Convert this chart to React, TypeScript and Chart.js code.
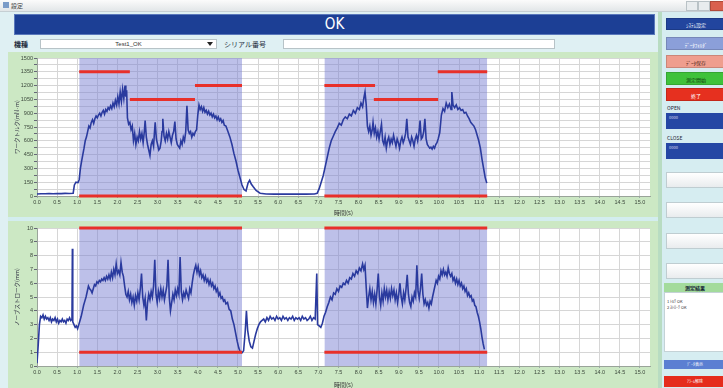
import React, { useEffect, useRef } from "react";
import { Chart, registerables } from "chart.js";
Chart.register(...registerables);

// ---------- data ----------
const TOP_TIME = [0.00,0.10,0.20,0.30,0.40,0.50,0.60,0.70,0.80,0.90,0.93,0.97,1.02,1.05,1.08,1.11,1.14,1.17,1.20,1.23,1.26,1.29,1.32,1.35,1.38,1.41,1.44,1.47,1.50,1.53,1.56,1.59,1.62,1.65,1.68,1.71,1.74,1.77,1.80,1.83,1.86,1.89,1.92,1.95,1.98,2.01,2.04,2.07,2.10,2.13,2.16,2.19,2.21,2.23,2.25,2.28,2.31,2.34,2.37,2.40,2.43,2.46,2.49,2.52,2.55,2.58,2.61,2.64,2.67,2.69,2.72,2.75,2.78,2.81,2.84,2.87,2.90,2.92,2.94,2.97,3.00,3.03,3.06,3.09,3.11,3.13,3.16,3.19,3.22,3.25,3.28,3.31,3.34,3.37,3.40,3.43,3.46,3.49,3.52,3.55,3.58,3.61,3.64,3.67,3.70,3.73,3.76,3.79,3.82,3.85,3.88,3.91,3.94,3.97,4.00,4.03,4.06,4.09,4.12,4.15,4.18,4.21,4.24,4.27,4.30,4.33,4.36,4.39,4.42,4.45,4.48,4.51,4.54,4.57,4.60,4.63,4.66,4.70,4.75,4.80,4.85,4.90,4.95,5.00,5.05,5.10,5.15,5.20,5.25,5.29,5.33,5.38,5.45,5.55,5.70,5.90,6.10,6.30,6.50,6.70,6.90,6.97,7.02,7.07,7.12,7.17,7.22,7.27,7.32,7.37,7.42,7.47,7.52,7.57,7.62,7.67,7.72,7.77,7.82,7.87,7.92,7.97,8.02,8.06,8.10,8.13,8.16,8.19,8.22,8.25,8.28,8.31,8.34,8.36,8.39,8.42,8.45,8.48,8.51,8.54,8.57,8.60,8.63,8.66,8.69,8.72,8.75,8.78,8.81,8.84,8.87,8.90,8.93,8.96,8.99,9.02,9.05,9.08,9.11,9.14,9.17,9.20,9.23,9.26,9.29,9.32,9.35,9.38,9.41,9.44,9.47,9.50,9.53,9.56,9.59,9.62,9.65,9.68,9.71,9.74,9.77,9.80,9.83,9.86,9.89,9.92,9.95,9.98,10.02,10.06,10.10,10.14,10.18,10.22,10.26,10.30,10.32,10.35,10.39,10.43,10.47,10.51,10.55,10.59,10.63,10.67,10.71,10.75,10.79,10.83,10.87,10.91,10.95,10.99,11.03,11.07,11.11,11.15,11.19];
const TOP_TORQUE = [22,25,24,26,25,27,26,28,27,30,120,150,145,180,300,380,450,520,600,640,700,760,740,800,830,790,840,870,850,880,900,870,910,930,890,940,920,960,940,980,950,1010,970,1040,990,1080,1000,1130,1030,1160,1060,1200,1080,1150,850,780,800,720,760,600,680,560,640,600,700,620,680,580,700,820,640,560,500,440,560,600,540,680,800,620,560,500,520,600,700,840,650,600,680,620,700,640,580,660,700,810,620,560,540,520,600,560,640,600,700,980,720,680,700,640,680,660,700,720,880,990,940,970,920,960,910,930,890,920,880,900,860,890,850,870,830,860,820,840,800,820,770,760,700,640,560,460,380,280,200,120,70,55,140,170,130,100,60,30,22,20,22,20,21,20,22,30,80,150,220,320,420,520,600,650,700,740,790,770,830,860,840,890,870,930,900,960,940,1010,970,1060,1130,990,760,700,760,660,720,800,680,740,640,700,620,700,780,600,560,640,520,600,640,560,620,580,660,600,540,620,580,520,600,640,580,620,680,840,640,600,560,640,600,540,620,660,600,680,820,620,640,700,840,620,560,540,520,530,510,540,520,560,580,620,690,880,950,920,1010,960,1000,940,1130,990,960,990,940,960,930,940,900,910,870,840,800,780,760,720,660,600,520,400,300,200,140];

const BOT_TIME = [0.00,0.03,0.06,0.09,0.12,0.15,0.18,0.21,0.24,0.27,0.30,0.33,0.36,0.39,0.42,0.45,0.48,0.51,0.54,0.57,0.60,0.63,0.66,0.69,0.72,0.75,0.78,0.81,0.84,0.87,0.88,0.89,0.92,0.95,0.98,1.01,1.04,1.07,1.10,1.13,1.16,1.19,1.22,1.25,1.28,1.31,1.34,1.37,1.40,1.43,1.46,1.49,1.52,1.55,1.58,1.61,1.64,1.67,1.70,1.73,1.76,1.79,1.82,1.85,1.88,1.91,1.94,1.97,2.00,2.03,2.06,2.09,2.12,2.15,2.18,2.21,2.24,2.27,2.30,2.33,2.36,2.39,2.42,2.45,2.48,2.51,2.54,2.57,2.60,2.63,2.66,2.69,2.72,2.75,2.78,2.81,2.84,2.87,2.90,2.93,2.96,2.99,3.02,3.05,3.08,3.11,3.14,3.17,3.20,3.23,3.26,3.29,3.32,3.35,3.38,3.41,3.44,3.47,3.50,3.53,3.56,3.59,3.62,3.65,3.68,3.71,3.74,3.77,3.80,3.83,3.86,3.89,3.92,3.95,3.98,4.01,4.04,4.07,4.10,4.13,4.16,4.19,4.22,4.25,4.28,4.31,4.34,4.37,4.40,4.43,4.46,4.49,4.52,4.55,4.58,4.61,4.64,4.67,4.70,4.74,4.78,4.82,4.86,4.90,4.94,4.98,5.02,5.06,5.10,5.14,5.18,5.21,5.24,5.28,5.32,5.36,5.40,5.44,5.48,5.52,5.56,5.60,5.64,5.68,5.72,5.76,5.80,5.84,5.88,5.92,5.96,6.00,6.04,6.08,6.12,6.16,6.20,6.24,6.28,6.32,6.36,6.40,6.44,6.48,6.52,6.56,6.60,6.64,6.68,6.72,6.76,6.80,6.84,6.88,6.92,6.96,6.98,7.02,7.06,7.10,7.14,7.18,7.22,7.26,7.30,7.34,7.38,7.42,7.46,7.50,7.54,7.58,7.62,7.66,7.70,7.74,7.78,7.82,7.86,7.90,7.94,7.98,8.02,8.06,8.10,8.13,8.16,8.19,8.22,8.25,8.28,8.31,8.34,8.37,8.40,8.43,8.46,8.49,8.52,8.55,8.58,8.61,8.64,8.67,8.70,8.73,8.76,8.79,8.82,8.85,8.88,8.91,8.94,8.97,9.00,9.03,9.06,9.09,9.12,9.15,9.18,9.21,9.24,9.27,9.30,9.33,9.36,9.39,9.42,9.45,9.48,9.51,9.54,9.57,9.60,9.63,9.66,9.69,9.72,9.75,9.78,9.81,9.84,9.87,9.90,9.93,9.96,9.99,10.02,10.05,10.08,10.11,10.14,10.17,10.20,10.23,10.26,10.29,10.32,10.35,10.38,10.41,10.44,10.47,10.50,10.53,10.56,10.59,10.62,10.65,10.68,10.71,10.74,10.77,10.80,10.83,10.86,10.89,10.92,10.95,10.98,11.01,11.04,11.07,11.10,11.13];
const BOT_STROKE = [0.2,1.5,3.0,3.6,3.5,3.7,3.4,3.6,3.4,3.5,3.3,3.5,3.2,3.4,3.3,3.5,3.2,3.4,3.1,3.3,3.2,3.4,3.2,3.3,3.1,3.4,3.3,3.5,3.3,3.4,8.5,3.2,3.0,2.8,2.9,2.7,3.0,3.3,3.6,4.0,4.4,4.7,5.0,5.4,5.8,5.6,5.5,5.3,5.6,5.9,5.8,6.1,6.0,6.2,6.1,6.3,6.2,6.4,6.2,6.5,6.3,6.6,6.3,6.8,6.4,7.0,6.6,7.4,6.7,6.9,6.6,7.5,6.8,6.5,5.8,5.2,5.0,5.4,4.8,5.2,4.6,5.0,4.4,5.1,4.7,5.3,4.8,5.6,6.7,5.0,4.4,4.9,3.3,4.6,5.2,4.8,5.4,5.0,5.8,7.7,5.2,4.6,5.4,4.9,5.6,5.0,5.5,4.8,5.3,5.8,7.7,5.0,4.0,4.6,5.2,4.8,5.5,5.1,5.6,5.2,7.9,5.4,4.8,5.3,5.0,5.5,5.2,4.9,5.6,5.3,6.0,6.6,7.0,7.3,6.8,7.2,6.6,6.9,6.4,6.6,6.2,6.5,6.1,6.3,5.9,6.2,5.8,6.0,5.6,5.8,5.4,5.6,5.1,5.3,4.9,5.0,4.7,4.8,4.5,4.6,4.1,4.0,3.4,3.0,2.4,1.8,1.3,1.0,0.95,1.1,2.5,4.0,2.6,1.8,1.4,1.3,1.8,2.3,2.7,3.0,3.2,3.3,3.4,3.2,3.5,3.3,3.6,3.4,3.5,3.3,3.6,3.4,3.5,3.3,3.6,3.4,3.5,3.3,3.5,3.4,3.6,3.3,3.5,3.4,3.5,3.3,3.6,3.4,3.5,3.3,3.4,3.6,3.3,3.5,3.4,6.7,3.0,2.9,2.8,3.1,3.6,3.9,4.3,4.6,5.0,4.8,5.3,5.2,5.6,5.4,5.8,5.7,6.0,5.9,6.2,6.0,6.4,6.3,6.7,6.5,6.9,6.7,7.1,6.9,7.4,7.0,7.3,5.7,4.2,5.0,5.6,4.8,5.4,4.6,5.2,4.5,5.5,6.7,5.0,4.4,5.3,4.7,5.6,5.0,5.5,4.8,5.4,4.9,5.6,5.1,5.5,4.8,5.3,4.6,5.2,6.0,5.0,4.5,5.3,4.8,5.6,6.6,5.2,4.6,4.3,5.0,4.7,5.3,5.0,7.3,5.4,4.9,5.6,6.7,5.2,4.5,4.8,4.4,4.6,4.2,4.7,4.5,5.0,5.4,5.8,6.2,6.0,6.5,6.3,6.9,6.6,7.0,6.6,6.8,6.5,7.1,6.7,6.5,6.7,6.2,6.4,6.0,6.3,5.9,6.2,5.8,6.0,5.6,5.8,5.4,5.6,5.1,5.3,5.0,5.1,4.7,4.8,4.4,4.3,3.9,3.6,3.2,2.7,2.1,1.6,1.2];

// measurement windows (s)
const WINDOW_START = [1.05, 7.15];
const WINDOW_END = [5.1, 11.2];

// torque upper-limit segments
const TOP_LIMIT_FROM = [1.05, 2.31, 3.93, 7.15, 8.38, 9.97];
const TOP_LIMIT_TO = [2.31, 3.93, 5.1, 8.41, 9.98, 11.2];
const TOP_LIMIT_VALUE = [1350, 1050, 1200, 1200, 1050, 1350];
const TOP_LOWER_LIMIT = 0;

// stroke limits
const BOT_UPPER_LIMIT = 10;
const BOT_LOWER_LIMIT = 1;

const TOP_Y_MAX = 1500;
const TOP_Y_STEP = 75;
const TOP_Y_LABEL_STEP = 150;
const BOT_Y_MAX = 10;
const X_MAX = 15.25;
const X_STEP = 0.5;

// ---------- helpers ----------
const BLUE = "#2a3a9e";
const RED = "#e8302a";
const SHADE = "rgba(118,124,210,0.48)";
const TICK_FONT = { family: "'Liberation Sans', 'DejaVu Sans', sans-serif", size: 5.5 };
const CJK = "'Noto Sans CJK JP', 'Noto Sans', sans-serif";

const pairs = (xs: number[], ys: number[]) => xs.map((x, i) => ({ x, y: ys[i] }));
const segs = (from: number[], to: number[], vals: number[]) => {
  const out: any[] = [];
  from.forEach((f, i) => {
    out.push({ x: f, y: vals[i] }, { x: to[i], y: vals[i] }, { x: to[i], y: null });
  });
  return out;
};

const plotBg = {
  id: "plotBg",
  beforeDraw(chart: any) {
    const { ctx, chartArea: a } = chart;
    ctx.save();
    ctx.fillStyle = "#ffffff";
    ctx.fillRect(a.left, a.top, a.right - a.left, a.bottom - a.top);
    ctx.restore();
  },
};

function buildConfig(opts: {
  time: number[];
  values: number[];
  yMax: number;
  yStep: number;
  yLabel: (v: number) => string;
  yTitle: string;
  upper: any[];
  lower: any[];
  padTop: number;
  xTitlePad: number;
}) {
  const shadeSets = WINDOW_START.map((s, i) => ({
    type: "line",
    data: [{ x: s, y: opts.yMax }, { x: WINDOW_END[i], y: opts.yMax }],
    fill: "start",
    backgroundColor: SHADE,
    borderWidth: 0,
    pointRadius: 0,
    order: 3,
  }));
  return {
    type: "line",
    data: {
      datasets: [
        ...shadeSets,
        {
          data: pairs(opts.time, opts.values),
          borderColor: BLUE,
          borderWidth: 1.6,
          pointRadius: 0,
          tension: 0,
          fill: false,
          order: 1,
        },
        {
          data: opts.upper,
          borderColor: RED,
          borderWidth: 3,
          pointRadius: 0,
          spanGaps: false,
          fill: false,
          clip: false,
          order: 0,
        },
        {
          data: opts.lower,
          borderColor: RED,
          borderWidth: 3,
          pointRadius: 0,
          spanGaps: false,
          fill: false,
          clip: false,
          order: 0,
        },
      ],
    },
    options: {
      animation: false,
      responsive: false,
      devicePixelRatio: 1,
      events: [],
      layout: { padding: { top: opts.padTop, right: 6, left: 0, bottom: 0 } },
      plugins: { legend: { display: false }, tooltip: { enabled: false } },
      scales: {
        x: {
          type: "linear",
          min: 0,
          max: X_MAX,
          afterFit: (s: any) => { s.height = 22; },
          border: { color: "#9aa49a" },
          grid: { color: "#d6d6d6", lineWidth: 1, tickLength: 2, tickColor: "#9aa" },
          ticks: {
            stepSize: X_STEP,
            includeBounds: false,
            autoSkip: false,
            maxRotation: 0,
            padding: 1,
            color: "#3a463a",
            font: TICK_FONT,
            callback: (v: number) => v.toFixed(1),
          },
          title: { display: true, text: "時間(s)", color: "#333", font: { family: CJK, size: 6 }, padding: { top: 0, bottom: opts.xTitlePad } },
        },
        y: {
          min: 0,
          max: opts.yMax,
          afterFit: (s: any) => { s.width = 29; },
          border: { color: "#9aa49a" },
          grid: { color: "#d6d6d6", lineWidth: 1, tickLength: 3, tickColor: "#667" },
          ticks: {
            stepSize: opts.yStep,
            includeBounds: false,
            autoSkip: false,
            padding: 1,
            color: "#3a463a",
            font: TICK_FONT,
            callback: opts.yLabel,
          },
          title: { display: true, text: opts.yTitle, color: "#334", font: { family: CJK, size: 5.5 }, padding: { top: 6, bottom: 0 } },
        },
      },
    },
    plugins: [plotBg],
  };
}

function ChartBox({ config, left, top, width, height }: any) {
  const ref = useRef<HTMLCanvasElement>(null);
  useEffect(() => {
    const chart = new Chart(ref.current as HTMLCanvasElement, config as any);
    return () => chart.destroy();
  }, []);
  return (
    <canvas
      ref={ref}
      width={width}
      height={height}
      style={{ position: "absolute", left, top, width, height, display: "block" }}
    />
  );
}

const topConfig = buildConfig({
  time: TOP_TIME,
  values: TOP_TORQUE,
  yMax: TOP_Y_MAX,
  yStep: TOP_Y_STEP,
  yLabel: (v: number) => (v % TOP_Y_LABEL_STEP === 0 ? String(v) : ""),
  yTitle: "ワークトルク(mN·m)",
  upper: segs(TOP_LIMIT_FROM, TOP_LIMIT_TO, TOP_LIMIT_VALUE),
  lower: segs(WINDOW_START, WINDOW_END, WINDOW_START.map(() => TOP_LOWER_LIMIT)),
  padTop: 6,
  xTitlePad: 2,
});

const botConfig = buildConfig({
  time: BOT_TIME,
  values: BOT_STROKE,
  yMax: BOT_Y_MAX,
  yStep: 1,
  yLabel: (v: number) => String(v),
  yTitle: "ノーブストローク(mm)",
  upper: segs(WINDOW_START, WINDOW_END, WINDOW_START.map(() => BOT_UPPER_LIMIT)),
  lower: segs(WINDOW_START, WINDOW_END, WINDOW_START.map(() => BOT_LOWER_LIMIT)),
  padTop: 8,
  xTitlePad: 0,
});

const SIDE_BUTTONS = [
  { top: 18, h: 12, bg: "#22459e", text: "ｼｽﾃﾑ設定", color: "#fff" },
  { top: 37, h: 13, bg: "#8b9fd9", text: "ﾃﾞｰﾀﾌｫﾙﾀﾞ", color: "#fff" },
  { top: 55, h: 13, bg: "#ef9e8e", text: "ﾃﾞｰﾀ保存", color: "#5a2a20" },
  { top: 72, h: 13, bg: "#3fc23b", text: "測定開始", color: "#0f3a10" },
  { top: 88, h: 13, bg: "#e6301f", text: "終了", color: "#fff" },
];
const WHITE_BOXES = [172, 202, 233, 263];

export default function App() {
  const abs = (s: any) => ({ position: "absolute" as const, ...s });
  return (
    <div style={abs({ left: 0, top: 0, width: 723, height: 388, overflow: "hidden", background: "#dff0f3", fontFamily: CJK })}>
      {/* title bar */}
      <div style={abs({ left: 0, top: 0, width: 723, height: 11, background: "linear-gradient(#fbfbfb,#e2e6e8)", borderBottom: "1px solid #c6cfd3" })} />
      <div style={abs({ left: 3, top: 2, width: 6, height: 6, background: "#7b9cc8" })} />
      <div style={abs({ left: 11, top: 0, fontSize: 6, lineHeight: "11px", color: "#444" })}>設定</div>
      <div style={abs({ left: 686, top: 1, width: 10, height: 8, background: "#e8ecee", border: "1px solid #b9c2c6" })} />
      <div style={abs({ left: 698, top: 1, width: 10, height: 8, background: "#e8ecee", border: "1px solid #b9c2c6" })} />
      <div style={abs({ left: 710, top: 1, width: 14, height: 8, background: "#d9604e", border: "1px solid #b04a3a" })} />

      {/* OK banner */}
      <div style={abs({ left: 14, top: 14, width: 641, height: 21, background: "#1c3f95", border: "1px solid #5a78bb", boxSizing: "border-box", color: "#fff", fontSize: 15, lineHeight: "19px", textAlign: "center", fontFamily: "'DejaVu Sans Condensed','Liberation Sans Narrow','DejaVu Sans',sans-serif" })}>OK</div>

      {/* model / serial row */}
      <div style={abs({ left: 14, top: 39, fontSize: 7, lineHeight: "10px", color: "#1e2e40", fontWeight: 700 })}>機種</div>
      <div style={abs({ left: 40, top: 39, width: 177, height: 10, background: "#fff", border: "1px solid #b7c3c7", boxSizing: "border-box", fontSize: 6, lineHeight: "8px", textAlign: "center", color: "#333", fontFamily: "'Liberation Sans',sans-serif" })}>Test1_OK</div>
      <div style={abs({ left: 207, top: 42, width: 0, height: 0, borderLeft: "3px solid transparent", borderRight: "3px solid transparent", borderTop: "4px solid #222" })} />
      <div style={abs({ left: 224, top: 39, fontSize: 7, lineHeight: "10px", color: "#1e2e40" })}>シリアル番号</div>
      <div style={abs({ left: 283, top: 39, width: 272, height: 10, background: "#fff", border: "1px solid #b7c3c7", boxSizing: "border-box" })} />

      {/* chart panel */}
      <div style={abs({ left: 8, top: 52, width: 650, height: 336, background: "#cce8c4" })} />
      <div style={abs({ left: 8, top: 217, width: 650, height: 4, background: "#d3edef" })} />
      <ChartBox config={topConfig} left={8} top={52} width={648} height={166} />
      <ChartBox config={botConfig} left={8} top={220} width={648} height={168} />

      {/* separator + side panel */}
      <div style={abs({ left: 658, top: 12, width: 4, height: 376, background: "#b8dcc2" })} />
      <div style={abs({ left: 662, top: 12, width: 61, height: 376, background: "#d6edf1" })} />
      {SIDE_BUTTONS.map((b, i) => (
        <div key={i} style={abs({ left: 666, top: b.top, width: 60, height: b.h, background: b.bg, color: b.color, fontSize: 5, lineHeight: `${b.h}px`, textAlign: "center", border: "1px solid rgba(0,0,0,0.15)", boxSizing: "border-box" })}>{b.text}</div>
      ))}
      <div style={abs({ left: 667, top: 104, fontSize: 5, lineHeight: "7px", color: "#223" })}>OPEN</div>
      <div style={abs({ left: 666, top: 113, width: 60, height: 16, background: "#2547a4", color: "#dde", fontSize: 4, lineHeight: "8px", paddingLeft: 3, boxSizing: "border-box" })}>0000</div>
      <div style={abs({ left: 667, top: 134, fontSize: 5, lineHeight: "7px", color: "#223" })}>CLOSE</div>
      <div style={abs({ left: 666, top: 143, width: 60, height: 16, background: "#2547a4", color: "#dde", fontSize: 4, lineHeight: "8px", paddingLeft: 3, boxSizing: "border-box" })}>0000</div>
      {WHITE_BOXES.map((t, i) => (
        <div key={i} style={abs({ left: 666, top: t, width: 60, height: 16, background: "linear-gradient(#ffffff,#e9ecee)", border: "1px solid #bfcdd1", boxSizing: "border-box" })} />
      ))}
      <div style={abs({ left: 664, top: 283, width: 62, height: 9, background: "#a3db9c", fontSize: 5, lineHeight: "9px", textAlign: "center", color: "#123", fontWeight: 700 })}>測定結果</div>
      <div style={abs({ left: 664, top: 292, width: 62, height: 60, background: "#ffffff", border: "1px solid #c4d2d6", boxSizing: "border-box", fontSize: 4, lineHeight: "6px", color: "#333", paddingLeft: 2, paddingTop: 5 })}>
        <div>1 ﾄﾙｸ OK</div>
        <div>2 ｽﾄﾛｰｸ OK</div>
      </div>
      <div style={abs({ left: 664, top: 360, width: 62, height: 9, background: "#5b7fd2", color: "#fff", fontSize: 4, lineHeight: "9px", textAlign: "center" })}>ﾃﾞｰﾀ表示</div>
      <div style={abs({ left: 664, top: 376, width: 62, height: 11, background: "#e52c1c", color: "#fff", fontSize: 4, lineHeight: "11px", textAlign: "center" })}>ｱﾗｰﾑ解除</div>
    </div>
  );
}
